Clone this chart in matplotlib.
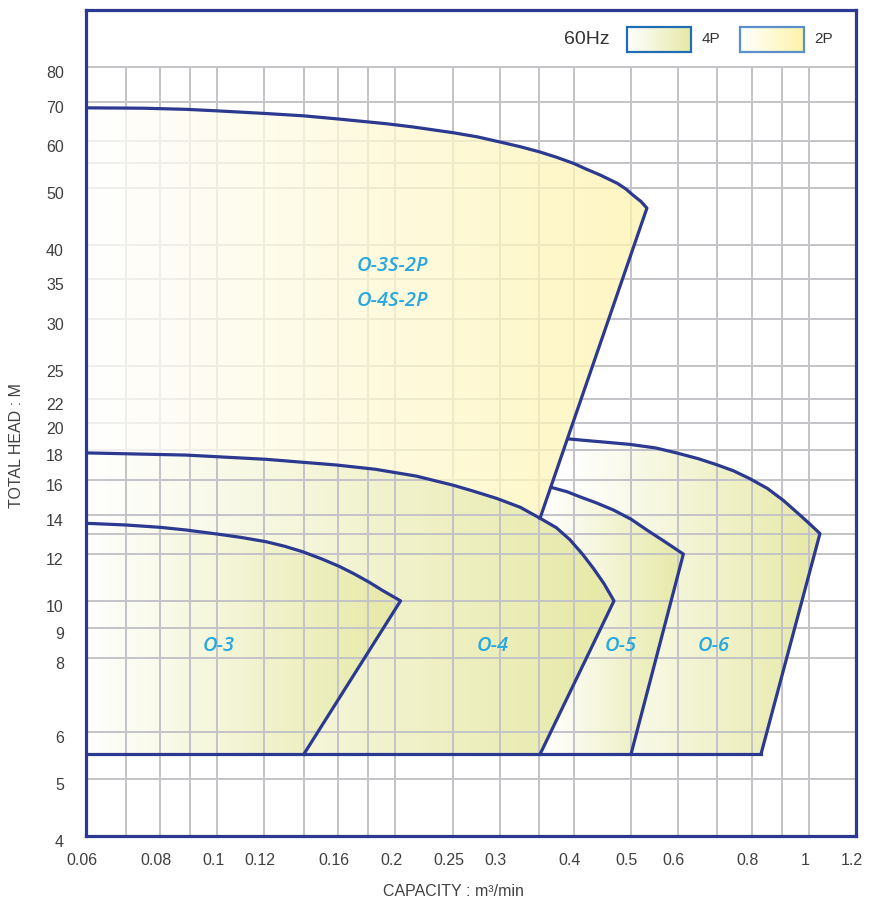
import numpy as np
import matplotlib
matplotlib.use("Agg")
import matplotlib.pyplot as plt
from matplotlib.patches import Polygon, Rectangle
from matplotlib.transforms import ScaledTranslation

plt.rcParams['font.family'] = ['Liberation Sans', 'DejaVu Sans']

# axis ticks / grid
x_ticks = [0.06, 0.08, 0.1, 0.12, 0.16, 0.2, 0.25, 0.3, 0.4, 0.5, 0.6, 0.8, 1, 1.2]
x_tick_labels = ['0.06', '0.08', '0.1', '0.12', '0.16', '0.2', '0.25', '0.3', '0.4', '0.5', '0.6', '0.8', '1', '1.2']
x_grid = [0.07, 0.08, 0.09, 0.1, 0.12, 0.14, 0.16, 0.18, 0.2, 0.25, 0.3, 0.35, 0.4, 0.5, 0.6, 0.7, 0.8, 0.9, 1.0]
y_ticks = [4, 5, 6, 8, 9, 10, 12, 14, 16, 18, 20, 22, 25, 30, 35, 40, 50, 60, 70, 80]
y_grid = [5, 6, 8, 9, 10, 12, 13, 14, 16, 18, 20, 22, 25, 30, 35, 40, 50, 55, 60, 70, 80]

# 2P envelope (O-3S-2P / O-4S-2P)
q_2p = [0.06, 0.075, 0.0886, 0.1, 0.121, 0.14, 0.16, 0.193, 0.214, 0.25, 0.275, 0.30, 0.325,
        0.351, 0.375, 0.40, 0.42, 0.443, 0.474, 0.49, 0.504, 0.52, 0.532]
h_2p = [68.3, 68.2, 67.9, 67.5, 66.8, 66.2, 65.4, 64.2, 63.4, 62.0, 61.0, 59.8, 58.7,
        57.5, 56.3, 55.0, 53.8, 52.6, 50.9, 49.8, 48.6, 47.4, 46.2]
q_2p_end, h_2p_end = 0.351, 13.8

# 4P curves
q_o3 = [0.06, 0.0701, 0.08, 0.0886, 0.1008, 0.11, 0.121, 0.13, 0.1394, 0.15, 0.1607, 0.17, 0.1807, 0.19, 0.204]
h_o3 = [13.53, 13.44, 13.32, 13.18, 12.96, 12.8, 12.59, 12.37, 12.11, 11.78, 11.44, 11.12, 10.75, 10.42, 10.0]
q_o3_bot = 0.140

q_o4 = [0.06, 0.0886, 0.121, 0.159, 0.185, 0.217, 0.25, 0.27, 0.297, 0.325, 0.351, 0.374, 0.394, 0.414, 0.432, 0.45, 0.468]
h_o4 = [17.8, 17.65, 17.36, 16.98, 16.7, 16.26, 15.7, 15.35, 14.9, 14.4, 13.8, 13.3, 12.7, 12.0, 11.35, 10.7, 10.0]
q_o4_bot = 0.351

q_o5 = [0.367, 0.39, 0.410, 0.437, 0.467, 0.50, 0.532, 0.57, 0.613]
h_o5 = [15.56, 15.3, 15.0, 14.65, 14.25, 13.75, 13.18, 12.6, 12.0]
q_o5_bot = 0.500

q_o6 = [0.392, 0.415, 0.455, 0.498, 0.55, 0.597, 0.65, 0.698, 0.745, 0.794, 0.85, 0.904, 0.965, 1.010, 1.043]
h_o6 = [18.8, 18.7, 18.55, 18.4, 18.15, 17.8, 17.4, 17.0, 16.6, 16.1, 15.5, 14.8, 13.97, 13.4, 13.0]
q_o6_bot = 0.829

h_min = 5.5

navy = '#2B3990'
grid_c = '#C3C3C8'
c_4p = np.array([230, 233, 166]) / 255
c_2p = np.array([254, 243, 168]) / 255
label_c = '#27A8E0'

fig = plt.figure(figsize=(8.69, 9.02), dpi=100)
ax = fig.add_axes([86 / 869, 66 / 902, 770 / 869, 826 / 902])
ax.set_xscale('log')
ax.set_yscale('log')
ax.set_xlim(0.06, 1.2)
ax.set_ylim(4, 100)
ax.set_autoscale_on(False)


def frac(q):
    return ax.transAxes.inverted().transform(ax.transData.transform((q, 10)))[0]


def grad_fill(qs, hs, q0, q1, color, z, alpha=1.0):
    poly = Polygon(np.column_stack([qs, hs]), closed=True, transform=ax.transData,
                   facecolor='none', edgecolor='none')
    ax.add_patch(poly)
    f0, f1 = frac(q0), frac(q1)
    fx = np.linspace(0, 1, 1000)
    t = np.clip((fx - f0) / (f1 - f0), 0, 1)[:, None]
    rgb = (1 - t) * np.ones(3) + t * color
    im = ax.imshow(rgb[None, :, :], extent=[0, 1, 0, 1], transform=ax.transAxes,
                   aspect='auto', zorder=z, alpha=alpha, interpolation='bilinear')
    im.set_clip_path(poly)


# 4P fills (under grid)
grad_fill(q_o6 + [q_o6_bot, q_o4_bot, q_o4_bot], h_o6 + [h_min, h_min, h_2p_end],
          q_o6[0], q_o6[-1], c_4p, 0.5)
grad_fill(q_o5 + [q_o5_bot, q_o4_bot, q_o4_bot], h_o5 + [h_min, h_min, h_2p_end],
          0.357, q_o5[-1], c_4p, 0.6)
grad_fill(q_o4 + [q_o4_bot, 0.06], h_o4 + [h_min, h_min], 0.06, q_o4[-1], c_4p, 0.7)
grad_fill(q_o3 + [q_o3_bot, 0.06], h_o3 + [h_min, h_min], 0.06, q_o3[-1], c_4p, 0.8)

# 2P fill (over grid, translucent)
o4_upper = [(q, h) for q, h in zip(q_o4, h_o4) if q < q_2p_end]
q_2p_poly = q_2p + [q_2p_end] + [q for q, h in o4_upper[::-1]]
h_2p_poly = h_2p + [h_2p_end] + [h for q, h in o4_upper[::-1]]
grad_fill(q_2p_poly, h_2p_poly, 0.06, 0.60, c_2p, 1.5, alpha=0.75)

# grid
ax.vlines(x_grid, 4, 80, colors=grid_c, lw=1.4, zorder=1)
ax.hlines(y_grid, 0.06, 1.2, colors=grid_c, lw=1.4, zorder=1)

# outlines
lw = 2.3
line = dict(color=navy, lw=lw, zorder=3, solid_joinstyle='round')
ax.plot(q_2p + [q_2p_end], h_2p + [h_2p_end], **line)
ax.plot(q_o4 + [q_o4_bot], h_o4 + [h_min], **line)
ax.plot(q_o3 + [q_o3_bot], h_o3 + [h_min], **line)
ax.plot(q_o5 + [q_o5_bot], h_o5 + [h_min], **line)
ax.plot(q_o6 + [q_o6_bot], h_o6 + [h_min], **line)
ax.plot([0.06, q_o6_bot], [h_min, h_min], **line)

# model labels
lab = dict(color=label_c, fontsize=14.5, style='italic', weight='semibold',
           family=['Open Sans', 'DejaVu Sans'], ha='center', va='center', zorder=4)
ax.text(0.198, 36.9, 'O-3S-2P', **lab)
ax.text(0.198, 32.2, 'O-4S-2P', **lab)
ax.text(0.1007, 8.39, 'O-3', **lab)
ax.text(0.292, 8.39, 'O-4', **lab)
ax.text(0.481, 8.39, 'O-5', **lab)
ax.text(0.690, 8.39, 'O-6', **lab)

# legend
ax.text(0.651, 0.9637, '60Hz', transform=ax.transAxes, fontsize=14, color='#333333',
        ha='center', va='center')
for x0, col, edge, name in [(0.7026, c_4p, '#1F6EB5', '4P'), (0.8494, c_2p, '#5B8FCC', '2P')]:
    t = np.linspace(0, 1, 200)[:, None]
    rgb = (1 - t) * np.ones(3) + t * col
    ax.imshow(rgb[None, :, :], extent=[x0, x0 + 0.0831, 0.9492, 0.9794],
              transform=ax.transAxes, aspect='auto', zorder=5)
    ax.add_patch(Rectangle((x0, 0.9492), 0.0831, 0.0302, transform=ax.transAxes,
                           fill=False, edgecolor=edge, lw=1.6, zorder=6))
    ax.text(x0 + 0.109, 0.9643, name, transform=ax.transAxes, fontsize=11,
            color='#333333', ha='center', va='center')

ax.set_xlim(0.06, 1.2)
ax.set_ylim(4, 100)

# ticks
ax.set_xticks(x_ticks)
ax.set_xticklabels(x_tick_labels)
ax.set_yticks(y_ticks)
ax.set_yticklabels([str(v) for v in y_ticks])
ax.minorticks_off()
ax.tick_params(length=0, labelsize=11.5, labelcolor='#404040')
ax.tick_params(axis='x', pad=12)
ax.tick_params(axis='y', pad=16)
for lbl in ax.get_xticklabels():
    lbl.set_transform(lbl.get_transform() + ScaledTranslation(-0.04, 0, fig.dpi_scale_trans))
for lbl in ax.get_yticklabels():
    lbl.set_transform(lbl.get_transform() + ScaledTranslation(0, -0.05, fig.dpi_scale_trans))

ax.set_xlabel('CAPACITY : m³/min', fontsize=11.5, color='#404040')
ax.set_ylabel('TOTAL HEAD : M', fontsize=11.5, color='#404040')
ax.xaxis.set_label_coords(0.477, -0.058)
ax.yaxis.set_label_coords(-0.0805, 0.473)

for s in ax.spines.values():
    s.set_color(navy)
    s.set_linewidth(2.3)
    s.set_zorder(7)

fig.savefig('out.png', dpi=100)
